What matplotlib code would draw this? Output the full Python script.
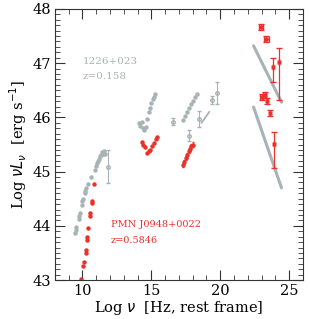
import matplotlib
matplotlib.use("Agg")
import matplotlib.pyplot as plt
from matplotlib.ticker import MultipleLocator
import numpy as np

GRAY = "#a8b3b6"
RED = "#e8322a"

# 1226+023 (gray)
g_radio_x = [9.45, 9.5, 9.52, 9.72, 9.74, 9.81, 9.96, 10.0, 10.03, 10.17, 10.2, 10.25, 10.39, 10.61, 10.9,
             11.0, 11.04, 11.12, 11.19, 11.26, 11.33, 11.41, 11.48, 11.55, 11.62]
g_radio_y = [43.86, 43.92, 43.97, 44.12, 44.18, 44.24, 44.38, 44.45, 44.5, 44.6, 44.65, 44.7, 44.77, 44.9, 45.03,
             45.1, 45.16, 45.2, 45.24, 45.28, 45.3, 45.36, 45.32, 45.38, 45.33]
g_opt_x = [14.1, 14.2, 14.3, 14.4, 14.5, 14.6, 14.7, 14.8, 14.9, 15.0, 15.1, 15.2, 15.3]
g_opt_y = [45.9, 45.85, 45.92, 45.8, 45.76, 45.82, 45.97, 46.1, 46.18, 46.26, 46.33, 46.38, 46.44]
g_xr_x = [17.3, 17.45, 17.6, 17.75, 17.9, 18.05, 18.2, 18.3]
g_xr_y = [45.95, 46.02, 46.1, 46.17, 46.24, 46.3, 46.37, 46.43]
g_err_x = [11.84, 16.55, 17.7, 18.43, 19.38, 19.74]
g_err_y = [45.09, 45.92, 45.66, 45.97, 46.32, 46.45]
g_err_e = [0.3, 0.06, 0.1, 0.14, 0.08, 0.2]
g_pl_x = [18.65, 19.2]
g_pl_y = [45.9, 46.1]
g_gam1_x = [22.42, 24.45]
g_gam1_y = [47.32, 46.28]
g_gam2_x = [22.42, 24.45]
g_gam2_y = [46.19, 44.7]

# PMN J0948+0022 (red)
r_radio_x = [9.88, 10.03, 10.1, 10.25, 10.27, 10.32, 10.34, 10.39, 10.54, 10.56, 10.68, 10.72, 10.83]
r_radio_y = [43.02, 43.26, 43.33, 43.5, 43.55, 43.74, 43.8, 43.96, 44.18, 44.24, 44.42, 44.46, 44.77]
r_opt_x = [14.3, 14.4, 14.52, 14.67, 14.8, 14.88, 15.03, 15.17, 15.32, 15.39]
r_opt_y = [45.55, 45.5, 45.45, 45.34, 45.38, 45.4, 45.47, 45.53, 45.6, 45.64]
r_xr_x = [17.3, 17.4, 17.5, 17.6, 17.7, 17.8, 17.9, 18.0]
r_xr_y = [45.12, 45.18, 45.25, 45.3, 45.38, 45.42, 45.47, 45.5]
r_gam_x = [22.93, 23.36, 23.8, 24.3, 23.0, 23.22, 23.43, 23.58, 23.87]
r_gam_y = [47.67, 47.45, 46.93, 47.02, 46.38, 46.41, 46.3, 46.08, 45.51]
r_gam_xe = [0.15, 0.15, 0.0, 0.0, 0.12, 0.12, 0.0, 0.0, 0.0]
r_gam_ylo = [0.06, 0.06, 0.28, 0.7, 0.06, 0.06, 0.05, 0.06, 0.45]
r_gam_yhi = [0.06, 0.06, 0.17, 0.26, 0.06, 0.06, 0.05, 0.06, 0.22]

plt.rcParams['font.family'] = ['DejaVu Serif']
fig = plt.figure(figsize=(3.10, 3.19), dpi=100)
ax = fig.add_axes([0.177, 0.122, 0.8, 0.85])

ms = 3.2
# gray lines (bow ties)
ax.plot(g_gam1_x, g_gam1_y, color=GRAY, lw=2.2, solid_capstyle='round')
ax.plot(g_gam2_x, g_gam2_y, color=GRAY, lw=2.2, solid_capstyle='round')
ax.plot(g_pl_x, g_pl_y, color=GRAY, lw=1.3)

ax.plot(g_radio_x, g_radio_y, 'o', color=GRAY, ms=ms, mec='none')
ax.plot(g_opt_x, g_opt_y, 'o', color=GRAY, ms=ms, mec='none')
ax.plot(g_xr_x, g_xr_y, 'o', color=GRAY, ms=ms, mec='none')
ax.errorbar(g_err_x, g_err_y, yerr=g_err_e, fmt='o', color=GRAY, ms=2.5, mfc='none',
            mec=GRAY, elinewidth=0.8, capsize=1.5)

ax.plot(r_radio_x, r_radio_y, 'o', color=RED, ms=ms, mec='none')
ax.plot(r_opt_x, r_opt_y, 'o', color=RED, ms=ms, mec='none')
ax.errorbar(r_xr_x, r_xr_y, yerr=0.04, fmt='o', color=RED, ms=ms, mec='none',
            elinewidth=0.6, capsize=1)
ax.errorbar(r_gam_x, r_gam_y, xerr=r_gam_xe, yerr=[r_gam_ylo, r_gam_yhi], fmt='s', color=RED,
            ms=3.5, mec='none', elinewidth=0.9, capsize=2)

ax.text(10.03, 46.99, "1226+023", color=GRAY, fontsize=7.5)
ax.text(10.03, 46.7, "z=0.158", color=GRAY, fontsize=7.5)
ax.text(12.05, 43.98, "PMN J0948+0022", color=RED, fontsize=7)
ax.text(12.05, 43.68, "z=0.5846", color=RED, fontsize=7)

ax.set_xlim(8, 26)
ax.set_ylim(43, 48)
ax.xaxis.set_major_locator(MultipleLocator(5))
ax.xaxis.set_minor_locator(MultipleLocator(1))
ax.yaxis.set_major_locator(MultipleLocator(1))
ax.yaxis.set_minor_locator(MultipleLocator(0.1))
ax.tick_params(which='both', direction='in', top=True, right=True, labelsize=10.5, color='#333333')
ax.tick_params(which='major', length=7, width=0.8, pad=2.5)
ax.tick_params(which='minor', length=3.5, width=0.6)
for s in ax.spines.values():
    s.set_linewidth(0.8)
    s.set_color('#333333')

ax.set_xlabel(r"Log $\nu$  [Hz, rest frame]", fontsize=10.5, labelpad=1)
ax.set_ylabel(r"Log $\nu L_\nu$  [erg s$^{-1}$]", fontsize=10.5, labelpad=3)

fig.savefig("out.png", dpi=100)
